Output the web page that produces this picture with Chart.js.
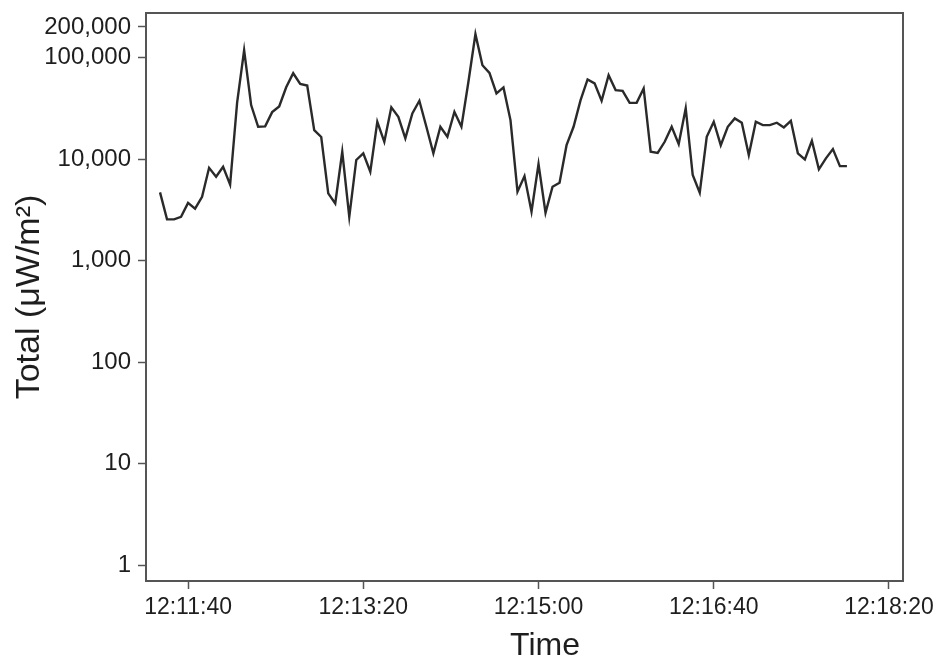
<!DOCTYPE html>
<html>
<head>
<meta charset="utf-8">
<script src="https://cdn.jsdelivr.net/npm/chart.js@4/dist/chart.umd.min.js"></script>
<style>
html,body{margin:0;padding:0;background:#fff;}
#wrap{width:945px;height:672px;}
</style>
</head>
<body>
<div id="wrap"><canvas id="c" width="945" height="672"></canvas></div>
<script>
const times = [
 "12:11:24","12:11:28","12:11:32","12:11:36","12:11:40","12:11:44","12:11:48","12:11:52","12:11:56",
 "12:12:00","12:12:04","12:12:08","12:12:12","12:12:16","12:12:20","12:12:24","12:12:28","12:12:32","12:12:36","12:12:40","12:12:44","12:12:48","12:12:52","12:12:56",
 "12:13:00","12:13:04","12:13:08","12:13:12","12:13:16","12:13:20","12:13:24","12:13:28","12:13:32","12:13:36","12:13:40","12:13:44","12:13:48","12:13:52","12:13:56",
 "12:14:00","12:14:04","12:14:08","12:14:12","12:14:16","12:14:20","12:14:24","12:14:28","12:14:32","12:14:36","12:14:40","12:14:44","12:14:48","12:14:52","12:14:56",
 "12:15:00","12:15:04","12:15:08","12:15:12","12:15:16","12:15:20","12:15:24","12:15:28","12:15:32","12:15:36","12:15:40","12:15:44","12:15:48","12:15:52","12:15:56",
 "12:16:00","12:16:04","12:16:08","12:16:12","12:16:16","12:16:20","12:16:24","12:16:28","12:16:32","12:16:36","12:16:40","12:16:44","12:16:48","12:16:52","12:16:56",
 "12:17:00","12:17:04","12:17:08","12:17:12","12:17:16","12:17:20","12:17:24","12:17:28","12:17:32","12:17:36","12:17:40","12:17:44","12:17:48","12:17:52","12:17:56"
];
const totals = [
 4700,2550,2550,2700,3700,3250,4250,8200,6700,8400,
 5600,36000,118000,34000,20800,21000,29000,33000,51000,70000,
 55000,53000,19300,16500,4600,3650,11800,2700,9800,11400,
 7500,23300,14800,32300,26100,16000,28200,37500,20800,11400,
 20800,16600,29200,20800,57700,170000,84000,70700,44300,50800,
 24200,4770,6800,3030,8930,2960,5340,5840,13700,20800,
 38100,60900,55600,37500,67100,47800,47000,35800,35800,49600,
 11800,11500,14800,20800,14050,31600,6960,4660,16600,23300,
 13700,20800,25150,22800,10950,23300,21600,21600,22800,20500,
 23800,11400,9930,15140,7920,10160,12540,8530,8530
];
const xTickLabels = ["12:11:40","12:13:20","12:15:00","12:16:40","12:18:20"];
const yTickValues = [1,10,100,1000,10000,100000,200000];
const xRange = ["12:11:16","12:18:28"];
const yRange = [0.712, 274500];
const xTitle = "Time";
const yTitle = "Total (\u03bcW/m\u00b2)";

function toSec(s){const p=s.split(":").map(Number);return p[0]*3600+p[1]*60+p[2];}
function fmtTime(v){v=Math.round(v);const h=Math.floor(v/3600),m=Math.floor((v%3600)/60),s=v%60;
  return h+":"+String(m).padStart(2,"0")+":"+String(s).padStart(2,"0");}

const FONT = "'Liberation Sans', Arial, Helvetica, sans-serif";
const AX = "#555";
const TXT = "#1e1e1e";

const frame = {
  id:'frame',
  afterDatasetsDraw(chart){
    const {ctx, chartArea:a} = chart;
    ctx.save();
    ctx.strokeStyle = AX; ctx.lineWidth = 2;
    ctx.strokeRect(a.left, a.top, a.right-a.left, a.bottom-a.top);
    ctx.restore();
  },
  afterDraw(chart){
    const ctx = chart.ctx;
    ctx.save();
    ctx.fillStyle = TXT;
    ctx.font = "32px " + FONT;
    ctx.textAlign = 'center'; ctx.textBaseline = 'middle';
    ctx.fillText(xTitle, 545, 646);
    ctx.restore();
  }
};

new Chart(document.getElementById('c'), {
  type:'line',
  data:{datasets:[{
    data: times.map((t,i)=>({x:toSec(t), y:totals[i]})),
    borderColor:'#2a2a2a', borderWidth:2.4, pointRadius:0, tension:0, fill:false
  }]},
  options:{
    responsive:false, animation:false, devicePixelRatio:1,
    layout:{padding:{left:0, top:13, right:42, bottom:0}},
    plugins:{legend:{display:false}, tooltip:{enabled:false}},
    scales:{
      x:{
        type:'linear', min:toSec(xRange[0]), max:toSec(xRange[1]),
        afterBuildTicks(s){ s.ticks = xTickLabels.map(l=>({value:toSec(l)})); },
        afterFit(s){ s.height = 91; s.paddingLeft = 0; s.paddingRight = 0; },
        grid:{drawOnChartArea:false, tickLength:8, color:AX, tickWidth:1.5},
        border:{display:false},
        ticks:{callback:(v)=>fmtTime(v), color:TXT, font:{family:FONT, size:23}, padding:5, maxRotation:0, autoSkip:false},
        title:{display:false}
      },
      y:{
        type:'logarithmic', min:yRange[0], max:yRange[1],
        afterBuildTicks(s){ s.ticks = yTickValues.map(v=>({value:v})); },
        afterFit(s){ s.width = 146; s.paddingTop = 0; s.paddingBottom = 0; },
        grid:{drawOnChartArea:false, tickLength:8, color:AX, tickWidth:1.5},
        border:{display:false},
        ticks:{callback:(v)=>Number(v).toLocaleString('en-US'), color:TXT, font:{family:FONT, size:24}, padding:7, autoSkip:false},
        title:{display:true, text:yTitle, color:TXT, font:{family:FONT, size:34}, padding:{top:9,bottom:0}}
      }
    }
  },
  plugins:[frame]
});
</script>
</body>
</html>
